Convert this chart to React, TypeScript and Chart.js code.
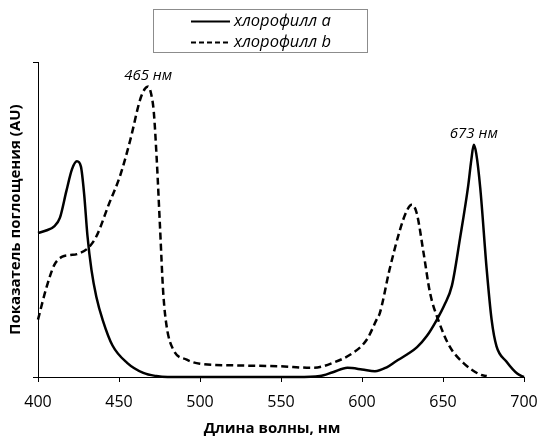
import React, { useEffect, useRef } from "react";
import { Chart, registerables } from "chart.js";

Chart.register(...registerables);

// Chlorophyll a (solid)
const wavelengthsA = [
  400, 405, 410, 413.5, 417.5, 421, 424, 426.5, 428.5, 430.5, 433, 436, 440, 446, 455, 465, 473, 480, 520, 560,
  574, 582, 591, 600, 608, 615, 621, 628, 634, 640, 646, 651, 655.5, 660.5, 665.5, 667.5, 669, 670.5,
  673, 677, 680, 683, 689, 696, 700,
];
const absorbanceA = [
  0.457, 0.465, 0.478, 0.505, 0.59, 0.66, 0.685, 0.668, 0.58, 0.45, 0.34, 0.255, 0.18, 0.1, 0.045, 0.013, 0.003,
  0.0, 0.0, 0.0, 0.003, 0.015, 0.029, 0.024, 0.018, 0.03, 0.05, 0.072, 0.095, 0.13, 0.18, 0.23, 0.29,
  0.44, 0.605, 0.69, 0.737, 0.71, 0.6, 0.34, 0.182, 0.098, 0.05, 0.01, 0.0,
];

// Chlorophyll b (dashed)
const wavelengthsB = [
  400, 405, 410, 415, 420, 424, 431, 436, 444, 450.5, 457, 463, 466, 468, 470, 471.5, 473.3, 475.3,
  477.3, 479.4, 483.5, 491.8, 500, 520, 549, 570, 582, 594.5, 603, 609, 611, 617, 623.5, 627.5, 630.7,
  633.8, 638, 642, 647, 654, 662.5, 672.8, 677,
];
const absorbanceB = [
  0.182, 0.28, 0.355, 0.382, 0.387, 0.39, 0.41, 0.446, 0.552, 0.636, 0.753, 0.88, 0.915, 0.922, 0.895,
  0.84, 0.69, 0.478, 0.268, 0.161, 0.087, 0.055, 0.042, 0.037, 0.034, 0.029, 0.045, 0.077, 0.119, 0.182,
  0.203, 0.341, 0.468, 0.526, 0.547, 0.52, 0.394, 0.267, 0.182, 0.098, 0.045, 0.008, 0.003,
];

const xTickValues = [400, 450, 500, 550, 600, 650, 700];
const seriesLabels = ["хлорофилл a", "хлорофилл b"];
const peakLabels = ["465 нм", "673 нм"];
const xTitle = "Длина волны, нм";
const yTitle = "Показатель поглощения (AU)";

const FONT = "'Open Sans', 'Noto Sans', sans-serif";

const overlayPlugin = {
  id: "overlay",
  afterDraw(chart: any) {
    const ctx = chart.ctx as CanvasRenderingContext2D;
    const xs = chart.scales.x;
    const ys = chart.scales.y;
    const area = chart.chartArea;
    ctx.save();

    // Peak annotations: centered above the peaks
    const annot = (wl: number[], ab: number[], text: string) => {
      let mi = 0;
      ab.forEach((v, i) => {
        if (v > ab[mi]) mi = i;
      });
      const px = xs.getPixelForValue(wl[mi]);
      const py = ys.getPixelForValue(ab[mi]);
      ctx.font = `italic 15px ${FONT}`;
      ctx.fillStyle = "#000";
      ctx.textAlign = "center";
      ctx.textBaseline = "middle";
      ctx.fillText(text, px, py - 11);
    };
    annot(wavelengthsB, absorbanceB, peakLabels[0]);
    annot(wavelengthsA, absorbanceA, peakLabels[1]);

    // Axis titles
    ctx.font = `bold 15px ${FONT}`;
    ctx.fillStyle = "#000";
    ctx.textAlign = "center";
    ctx.textBaseline = "middle";
    ctx.fillText(xTitle, 272, 429);
    ctx.save();
    ctx.translate(16, (area.top + area.bottom) / 2);
    ctx.rotate(-Math.PI / 2);
    ctx.fillText(yTitle, 0, 0);
    ctx.restore();

    // Legend box
    const bx = 153.5, by = 9.5, bw = 214, bh = 43;
    ctx.strokeStyle = "#8c8c8c";
    ctx.lineWidth = 1;
    ctx.strokeRect(bx, by, bw, bh);
    const rows = [21.5, 42.5];
    rows.forEach((ry, i) => {
      ctx.beginPath();
      ctx.strokeStyle = "#000";
      ctx.lineWidth = 2;
      ctx.setLineDash(i === 0 ? [] : [5, 3]);
      ctx.moveTo(191, ry);
      ctx.lineTo(230, ry);
      ctx.stroke();
      ctx.setLineDash([]);
      ctx.font = `italic 16.5px ${FONT}`;
      ctx.fillStyle = "#000";
      ctx.textAlign = "left";
      ctx.textBaseline = "middle";
      ctx.fillText(seriesLabels[i], 234, ry);
    });
    ctx.restore();
  },
};

export default function App() {
  const ref = useRef<HTMLCanvasElement | null>(null);

  useEffect(() => {
    if (!ref.current) return;
    const chart = new Chart(ref.current, {
      type: "line",
      data: {
        datasets: [
          {
            label: seriesLabels[0],
            data: wavelengthsA.map((x, i) => ({ x, y: absorbanceA[i] })),
            borderColor: "#000",
            borderWidth: 2.5,
            pointRadius: 0,
            fill: false,
            cubicInterpolationMode: "monotone",
            clip: 4,
          },
          {
            label: seriesLabels[1],
            data: wavelengthsB.map((x, i) => ({ x, y: absorbanceB[i] })),
            borderColor: "#000",
            borderWidth: 2.5,
            borderDash: [7, 4],
            pointRadius: 0,
            fill: false,
            cubicInterpolationMode: "monotone",
            clip: 4,
          },
        ],
      },
      options: {
        responsive: false,
        animation: false,
        devicePixelRatio: 1,
        layout: { padding: { top: 62, right: 16, left: 0, bottom: 0 } },
        plugins: {
          legend: { display: false },
          tooltip: { enabled: false },
          title: { display: false },
        },
        scales: {
          x: {
            type: "linear",
            min: 400,
            max: 700,
            afterBuildTicks: (scale: any) => {
              scale.ticks = xTickValues.map((v) => ({ value: v }));
            },
            afterFit: (scale: any) => {
              scale.height = 61;
              scale.paddingLeft = 0;
              scale.paddingRight = 0;
            },
            ticks: {
              color: "#000",
              font: { family: FONT, size: 16 },
              padding: 11,
              maxRotation: 0,
              autoSkip: false,
            },
            grid: {
              drawOnChartArea: false,
              drawTicks: true,
              tickLength: 5,
              color: "#000",
            },
            border: { display: true, color: "#000", width: 1 },
          },
          y: {
            type: "linear",
            min: 0,
            max: 1,
            afterBuildTicks: (scale: any) => {
              scale.ticks = [{ value: 0 }, { value: 1 }];
            },
            afterFit: (scale: any) => {
              scale.width = 38;
              scale.paddingTop = 0;
              scale.paddingBottom = 0;
            },
            ticks: {
              callback: () => "",
            },
            grid: {
              drawOnChartArea: false,
              drawTicks: true,
              tickLength: 5,
              color: "#000",
            },
            border: { display: true, color: "#000", width: 1 },
          },
        },
      },
      plugins: [overlayPlugin],
    } as any);
    return () => chart.destroy();
  }, []);

  return (
    <div style={{ position: "fixed", left: 0, top: 0, width: 540, height: 438, background: "#fff" }}>
      <canvas ref={ref} width={540} height={438} style={{ width: 540, height: 438, display: "block" }} />
    </div>
  );
}
